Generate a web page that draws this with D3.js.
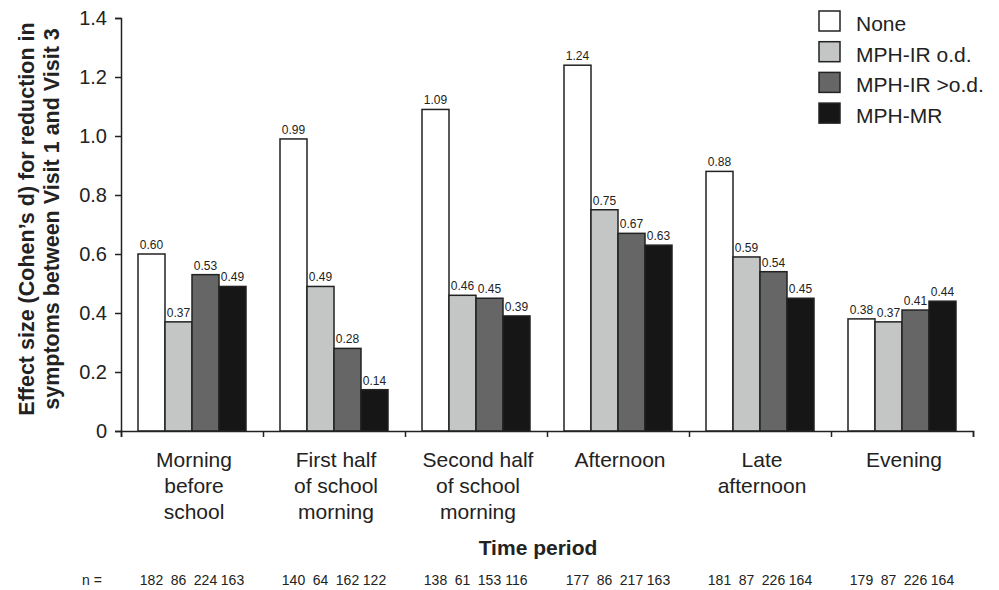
<!DOCTYPE html>
<html>
<head>
<meta charset="utf-8">
<script src="https://cdn.jsdelivr.net/npm/d3@7"></script>
<style>
  body { margin: 0; background: #fff; }
  svg { font-family: "Liberation Sans", Arial, sans-serif; }
</style>
</head>
<body>
<div id="chart"></div>
<script>
// categories and series
const periods = [
  ["Morning", "before", "school"],
  ["First half", "of school", "morning"],
  ["Second half", "of school", "morning"],
  ["Afternoon"],
  ["Late", "afternoon"],
  ["Evening"]
];
const seriesNames = ["None", "MPH-IR o.d.", "MPH-IR >o.d.", "MPH-MR"];
const noneVals = [0.60, 0.99, 1.09, 1.24, 0.88, 0.38];
const irOdVals = [0.37, 0.49, 0.46, 0.75, 0.59, 0.37];
const irMoreVals = [0.53, 0.28, 0.45, 0.67, 0.54, 0.41];
const mrVals = [0.49, 0.14, 0.39, 0.63, 0.45, 0.44];
const nNone = [182, 140, 138, 177, 181, 179];
const nIrOd = [86, 64, 61, 86, 87, 87];
const nIrMore = [224, 162, 153, 217, 226, 226];
const nMr = [163, 122, 116, 163, 164, 164];
const yTicks = [0, 0.2, 0.4, 0.6, 0.8, 1.0, 1.2, 1.4];

const colors = ["#ffffff", "#c4c6c5", "#666666", "#161616"];
const values = [noneVals, irOdVals, irMoreVals, mrVals];
const counts = [nNone, nIrOd, nIrMore, nMr];

const width = 999, height = 590;
const margin = {left: 121, right: 26, top: 18, bottom: 159};

const svg = d3.select("#chart").append("svg")
  .attr("width", width)
  .attr("height", height);

const x0 = d3.scaleBand()
  .domain(d3.range(periods.length))
  .range([margin.left, width - margin.right]);

const x1 = d3.scaleBand()
  .domain(d3.range(seriesNames.length))
  .range([17, x0.bandwidth() - 17]);

const y = d3.scaleLinear()
  .domain([0, 1.4])
  .range([height - margin.bottom, margin.top]);

// bars
const groups = svg.append("g").selectAll("g")
  .data(periods)
  .join("g")
  .attr("transform", (d, i) => `translate(${x0(i)},0)`);

groups.each(function(p, gi) {
  const g = d3.select(this);
  const rows = seriesNames.map((s, si) => ({si, v: values[si][gi], n: counts[si][gi]}));
  g.selectAll("rect")
    .data(rows)
    .join("rect")
    .attr("x", d => x1(d.si))
    .attr("y", d => y(d.v))
    .attr("width", x1.bandwidth())
    .attr("height", d => y(0) - y(d.v))
    .attr("fill", d => colors[d.si])
    .attr("stroke", "#222")
    .attr("stroke-width", 1.5);
  g.selectAll("text.val")
    .data(rows)
    .join("text")
    .attr("class", "val")
    .attr("x", d => x1(d.si) + x1.bandwidth() / 2)
    .attr("y", d => y(d.v) - 5)
    .attr("text-anchor", "middle")
    .attr("font-size", 12)
    .attr("fill", "#222")
    .text(d => d.v.toFixed(2));
  // n row
  g.selectAll("text.n")
    .data(rows)
    .join("text")
    .attr("class", "n")
    .attr("x", d => x1(d.si) + x1.bandwidth() / 2)
    .attr("y", 585)
    .attr("text-anchor", "middle")
    .attr("font-size", 14)
    .attr("fill", "#222")
    .text(d => d.n);
  // category label
  const lab = g.append("text")
    .attr("text-anchor", "middle")
    .attr("font-size", 21)
    .attr("fill", "#222");
  p.forEach((line, li) => {
    lab.append("tspan")
      .attr("x", x0.bandwidth() / 2 + 2)
      .attr("y", 467 + li * 26)
      .text(line);
  });
});

// y axis
const yAxis = svg.append("g")
  .attr("transform", `translate(${margin.left},0)`)
  .call(d3.axisLeft(y).tickValues(yTicks).tickSize(6).tickPadding(8)
    .tickFormat(d => d === 0 ? "0" : d3.format(".1f")(d)));
yAxis.select(".domain").attr("stroke", "#222").attr("stroke-width", 1.5);
yAxis.selectAll(".tick line").attr("stroke", "#222").attr("stroke-width", 1.5);
yAxis.selectAll(".tick text")
  .attr("font-size", 20)
  .attr("font-family", "Liberation Sans, Arial, sans-serif")
  .attr("fill", "#222");

// x axis with ticks at group boundaries
const boundaries = d3.range(periods.length + 1);
const xb = d3.scaleLinear().domain([0, periods.length]).range(x0.range());
const xAxis = svg.append("g")
  .attr("transform", `translate(0,${y(0)})`)
  .call(d3.axisBottom(xb).tickValues(boundaries).tickSize(6).tickFormat(""));
xAxis.select(".domain").attr("stroke", "#222").attr("stroke-width", 1.5);
xAxis.selectAll(".tick line").attr("stroke", "#222").attr("stroke-width", 1.5);

// axis titles
svg.append("text")
  .attr("transform", "translate(34,219) rotate(-90)")
  .attr("text-anchor", "middle")
  .attr("font-size", 21.5)
  .attr("font-weight", "bold")
  .attr("fill", "#222")
  .selectAll("tspan")
  .data(["Effect size (Cohen\u2019s d) for reduction in", "symptoms between Visit 1 and Visit 3"])
  .join("tspan")
  .attr("x", 0)
  .attr("dy", (d, i) => i === 0 ? 0 : 25)
  .text(d => d);

svg.append("text")
  .attr("x", 538)
  .attr("y", 555)
  .attr("text-anchor", "middle")
  .attr("font-size", 21)
  .attr("font-weight", "bold")
  .attr("fill", "#222")
  .text("Time period");

svg.append("text")
  .attr("x", 92)
  .attr("y", 585)
  .attr("text-anchor", "middle")
  .attr("font-size", 14)
  .attr("fill", "#222")
  .text("n =");

// legend
const legend = svg.append("g").attr("transform", "translate(819,11)");
const li = legend.selectAll("g")
  .data(seriesNames)
  .join("g")
  .attr("transform", (d, i) => `translate(0,${i * 30.7})`);
li.append("rect")
  .attr("width", 21)
  .attr("height", 20)
  .attr("fill", (d, i) => colors[i])
  .attr("stroke", "#222")
  .attr("stroke-width", 1.5);
li.append("text")
  .attr("x", 37)
  .attr("y", 20)
  .attr("font-size", 21)
  .attr("fill", "#222")
  .text(d => d);
</script>
</body>
</html>
